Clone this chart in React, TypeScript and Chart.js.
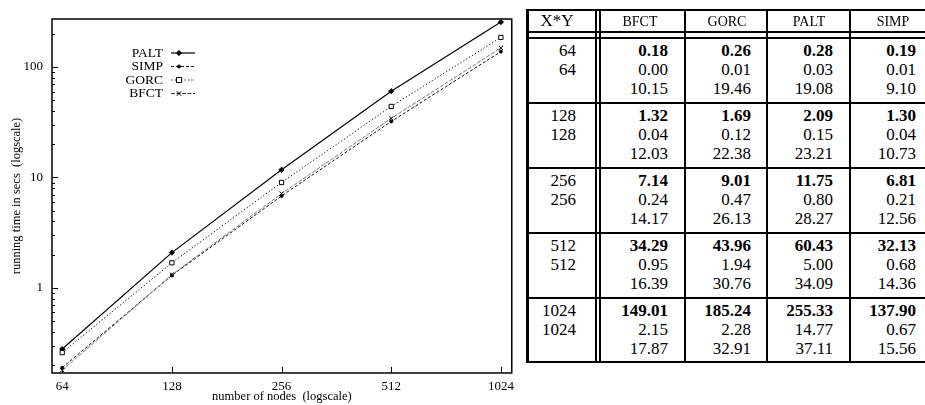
import React, { useEffect, useRef } from "react";
import { Chart, registerables } from "chart.js";

Chart.register(...registerables);

// Problem sizes (number of nodes)
const nodes = [64, 128, 256, 512, 1024];

// Mean running time in seconds per method
const bfctTime = [0.18, 1.32, 7.14, 34.29, 149.01];
const gorcTime = [0.26, 1.69, 9.01, 43.96, 185.24];
const paltTime = [0.28, 2.09, 11.75, 60.43, 255.33];
const simpTime = [0.19, 1.3, 6.81, 32.13, 137.9];

// Second table row per size
const bfctDev = [0.0, 0.04, 0.24, 0.95, 2.15];
const gorcDev = [0.01, 0.12, 0.47, 1.94, 2.28];
const paltDev = [0.03, 0.15, 0.8, 5.0, 14.77];
const simpDev = [0.01, 0.04, 0.21, 0.68, 0.67];

// Third table row per size
const bfctThird = [10.15, 12.03, 14.17, 16.39, 17.87];
const gorcThird = [19.46, 22.38, 26.13, 30.76, 32.91];
const paltThird = [19.08, 23.21, 28.27, 34.09, 37.11];
const simpThird = [9.1, 10.73, 12.56, 14.36, 15.56];

const tableMethods = ["BFCT", "GORC", "PALT", "SIMP"];
const legendOrder = ["PALT", "SIMP", "GORC", "BFCT"];

const xTickValues = [64, 128, 256, 512, 1024];
const yTickValues = [1, 10, 100];

const SERIF = "'Liberation Serif', 'Times New Roman', Times, serif";

type Style = {
  color: string;
  dash: number[];
  width: number;
  point: string;
  radius: number;
  fill: string;
  markColor: string;
};

const styles: Record<string, Style> = {
  PALT: { color: "#000", dash: [], width: 1.2, point: "rectRot", radius: 2.6, fill: "#000", markColor: "#000" },
  SIMP: { color: "#111", dash: [3, 2], width: 1, point: "circle", radius: 1.5, fill: "#000", markColor: "#000" },
  GORC: { color: "#000", dash: [1.2, 2.2], width: 1, point: "rect", radius: 3, fill: "#fff", markColor: "#000" },
  BFCT: { color: "#777", dash: [4, 1.5], width: 1, point: "crossRot", radius: 3, fill: "#000", markColor: "#000" },
};

const seriesValues: Record<string, number[]> = {
  BFCT: bfctTime,
  GORC: gorcTime,
  PALT: paltTime,
  SIMP: simpTime,
};

function drawMarker(ctx: CanvasRenderingContext2D, s: Style, x: number, y: number) {
  ctx.save();
  ctx.setLineDash([]);
  ctx.lineWidth = 1;
  ctx.strokeStyle = s.markColor;
  ctx.fillStyle = s.fill;
  const r = s.radius;
  ctx.beginPath();
  if (s.point === "rectRot") {
    ctx.moveTo(x, y - r);
    ctx.lineTo(x + r, y);
    ctx.lineTo(x, y + r);
    ctx.lineTo(x - r, y);
    ctx.closePath();
    ctx.fill();
    ctx.stroke();
  } else if (s.point === "circle") {
    ctx.arc(x, y, r, 0, Math.PI * 2);
    ctx.fill();
    ctx.stroke();
  } else if (s.point === "rect") {
    const h = r * 0.85;
    ctx.rect(x - h, y - h, h * 2, h * 2);
    ctx.fill();
    ctx.stroke();
  } else {
    const h = r * 0.75;
    ctx.moveTo(x - h, y - h);
    ctx.lineTo(x + h, y + h);
    ctx.moveTo(x + h, y - h);
    ctx.lineTo(x - h, y + h);
    ctx.stroke();
  }
  ctx.restore();
}

const framePlugin = {
  id: "frameAndLegend",
  afterDatasetsDraw(chart: any) {
    const { ctx, chartArea } = chart;
    const { left, right, top, bottom } = chartArea;
    const xs = chart.scales.x;
    const ys = chart.scales.y;
    ctx.save();
    ctx.strokeStyle = "#000";
    ctx.setLineDash([]);
    ctx.lineWidth = 1.5;
    ctx.strokeRect(left, top, right - left, bottom - top);

    // inward tick marks
    ctx.lineWidth = 1;
    ctx.beginPath();
    xTickValues.forEach((v) => {
      const px = Math.round(xs.getPixelForValue(v)) + 0.5;
      ctx.moveTo(px, bottom);
      ctx.lineTo(px, bottom - 6);
    });
    for (let e = -1; e <= 2; e++) {
      for (let k = 1; k <= 9; k++) {
        const v = k * Math.pow(10, e);
        if (v < ys.min || v > ys.max) continue;
        const py = Math.round(ys.getPixelForValue(v)) + 0.5;
        const len = k === 1 ? 6 : 3;
        ctx.moveTo(left, py);
        ctx.lineTo(left + len, py);
      }
    }
    ctx.stroke();

    // key
    const textRight = 163;
    const sampleStart = 171;
    const sampleEnd = 195;
    const markX = 179;
    const rowY = [52.5, 66, 79.5, 93];
    ctx.font = `13.5px ${SERIF}`;
    ctx.fillStyle = "#000";
    ctx.textAlign = "right";
    ctx.textBaseline = "middle";
    legendOrder.forEach((name, i) => {
      const s = styles[name];
      const y = rowY[i];
      ctx.fillText(name, textRight, y + 0.5);
      ctx.save();
      ctx.strokeStyle = name === "BFCT" ? "#333" : s.color;
      ctx.lineWidth = s.width;
      ctx.setLineDash(s.dash);
      ctx.beginPath();
      ctx.moveTo(sampleStart, y + 0.5);
      ctx.lineTo(sampleEnd, y + 0.5);
      ctx.stroke();
      ctx.restore();
      drawMarker(ctx, s, markX, y + 0.5);
    });
    ctx.restore();
  },
};

function PlotCanvas() {
  const ref = useRef<HTMLCanvasElement | null>(null);
  useEffect(() => {
    if (!ref.current) return;
    const datasets = legendOrder
      .slice()
      .reverse()
      .map((name) => {
        const s = styles[name];
        return {
          label: name,
          data: nodes.map((n, i) => ({ x: n, y: seriesValues[name][i] })),
          borderColor: s.color,
          borderWidth: s.width,
          borderDash: s.dash,
          pointStyle: s.point,
          pointRadius: s.radius,
          pointBackgroundColor: s.fill,
          pointBorderColor: s.markColor,
          pointBorderWidth: 1,
          tension: 0,
          fill: false,
        };
      });
    const chart = new Chart(ref.current, {
      type: "line",
      data: { datasets },
      options: {
        animation: false,
        responsive: false,
        maintainAspectRatio: false,
        layout: { padding: { top: 19, right: 3, left: 0, bottom: 0 } },
        plugins: { legend: { display: false }, tooltip: { enabled: false } },
        scales: {
          x: {
            type: "logarithmic",
            min: 60,
            max: 1097,
            grid: { display: false, drawTicks: false },
            border: { display: false },
            afterBuildTicks: (s: any) => {
              s.ticks = xTickValues.map((v) => ({ value: v }));
            },
            afterFit: (s: any) => {
              s.height = 32;
            },
            ticks: {
              autoSkip: false,
              maxRotation: 0,
              padding: 6,
              color: "#000",
              font: { family: SERIF, size: 13 },
              callback: (v: any) => String(v),
            },
            title: {
              display: true,
              text: "number of nodes  (logscale)",
              color: "#000",
              font: { family: SERIF, size: 12.5 },
              padding: { top: 0, bottom: 1 },
            },
          },
          y: {
            type: "logarithmic",
            min: 0.17,
            max: 272,
            grid: { display: false, drawTicks: false },
            border: { display: false },
            afterBuildTicks: (s: any) => {
              s.ticks = yTickValues.map((v) => ({ value: v }));
            },
            afterFit: (s: any) => {
              s.width = 52;
            },
            ticks: {
              autoSkip: false,
              padding: 9,
              color: "#000",
              font: { family: SERIF, size: 13 },
              callback: (v: any) => String(v),
            },
            title: {
              display: true,
              text: "running time in secs  (logscale)",
              color: "#000",
              font: { family: SERIF, size: 12.5 },
              padding: { top: 9, bottom: 0 },
            },
          },
        },
      },
      plugins: [framePlugin],
    } as any);
    return () => chart.destroy();
  }, []);
  return <canvas ref={ref} width={520} height={405} style={{ position: "absolute", left: 0, top: 0, width: 520, height: 405 }} />;
}

const secondRows: Record<string, number[]> = { BFCT: bfctDev, GORC: gorcDev, PALT: paltDev, SIMP: simpDev };
const thirdRows: Record<string, number[]> = { BFCT: bfctThird, GORC: gorcThird, PALT: paltThird, SIMP: simpThird };

function ResultsTable() {
  const lines: React.ReactNode[] = [];
  const hLine = (y: number, key: string) =>
    lines.push(<div key={key} style={{ position: "absolute", left: 526, top: y, width: 410, height: 2, background: "#000" }} />);
  const vLine = (x: number, w: number, key: string) =>
    lines.push(<div key={key} style={{ position: "absolute", left: x, top: 9, width: w, height: 354, background: "#000" }} />);
  hLine(9, "top");
  hLine(31, "h1");
  hLine(37, "h2");
  const groupTops = [39, 104, 169, 234, 299];
  [102, 167, 232, 297].forEach((y, i) => hLine(y, "g" + i));
  hLine(361, "bottom");
  vLine(526, 2.5, "vl");
  vLine(595, 2, "vd1");
  vLine(599, 2, "vd2");
  vLine(684, 2, "v1");
  vLine(766, 2, "v2");
  vLine(849, 2, "v3");
  vLine(932, 2, "vr");

  const headerCenters = [640, 727, 809, 893];
  const valueRights = [668, 751, 833, 916];
  const sizeRight = 576;

  const texts: React.ReactNode[] = [];
  texts.push(
    <div key="hxy" style={{ position: "absolute", left: 507, width: 100, top: 11, lineHeight: "20px", fontSize: 17, textAlign: "center" }}>
      X*Y
    </div>
  );
  tableMethods.forEach((m, j) => {
    texts.push(
      <div key={"h" + m} style={{ position: "absolute", left: headerCenters[j] - 50, width: 100, top: 11, lineHeight: "21px", fontSize: 14, textAlign: "center" }}>
        {m}
      </div>
    );
  });
  const cell = (key: string, right: number, top: number, text: string, bold: boolean) =>
    texts.push(
      <div key={key} style={{ position: "absolute", right: 925 - right, top, lineHeight: "19px", fontSize: 17, fontWeight: bold ? "bold" : "normal", whiteSpace: "nowrap" }}>
        {text}
      </div>
    );
  nodes.forEach((n, g) => {
    const t0 = groupTops[g] + 1.5;
    cell(`s${g}a`, sizeRight, t0, String(n), false);
    cell(`s${g}b`, sizeRight, t0 + 19, String(n), false);
    tableMethods.forEach((m, j) => {
      cell(`v${g}${m}a`, valueRights[j], t0, seriesValues[m][g].toFixed(2), true);
      cell(`v${g}${m}b`, valueRights[j], t0 + 19, secondRows[m][g].toFixed(2), false);
      cell(`v${g}${m}c`, valueRights[j], t0 + 38, thirdRows[m][g].toFixed(2), false);
    });
  });
  return (
    <>
      {lines}
      {texts}
    </>
  );
}

export default function App() {
  return (
    <div
      style={{
        position: "fixed",
        left: 0,
        top: 0,
        width: 925,
        height: 405,
        overflow: "hidden",
        background: "#fff",
        fontFamily: SERIF,
        color: "#000",
      }}
    >
      <PlotCanvas />
      <ResultsTable />
    </div>
  );
}
